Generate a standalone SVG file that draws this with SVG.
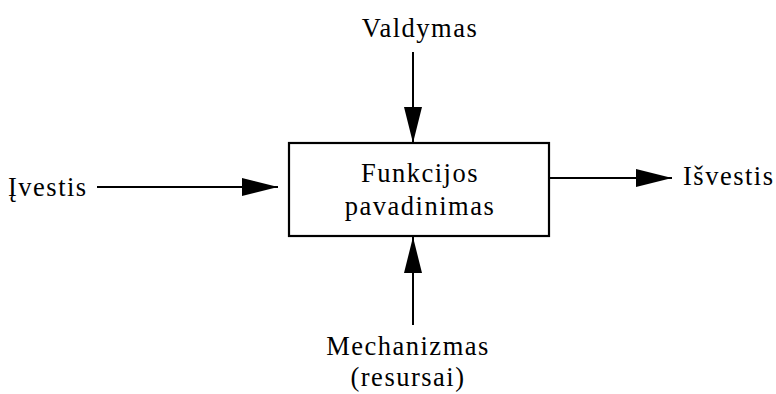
<svg xmlns="http://www.w3.org/2000/svg" width="776" height="394" viewBox="0 0 776 394">
  <defs>
    <marker id="arrow" markerUnits="userSpaceOnUse" markerWidth="36" markerHeight="18" refX="36" refY="9" orient="auto">
      <path d="M0,0 L36,9 L0,18 Z" fill="#000"/>
    </marker>
    <style>
      .box { fill: #fff; stroke: #000; stroke-width: 2.2; }
      .edge { stroke: #000; stroke-width: 2; fill: none; }
    </style>
  </defs>

  <g id="connectors">
    <line class="edge" x1="97" y1="187" x2="278" y2="187" marker-end="url(#arrow)"/>
    <line class="edge" x1="549" y1="178" x2="672" y2="178" marker-end="url(#arrow)"/>
    <line class="edge" x1="413" y1="52" x2="413" y2="143" marker-end="url(#arrow)"/>
    <line class="edge" x1="413" y1="325" x2="413" y2="237" marker-end="url(#arrow)"/>
  </g>

  <g font-family="'Liberation Serif', 'Times New Roman', serif" font-size="26.5" letter-spacing="1.5" fill="#000">
    <g id="function">
      <rect class="box" x="289" y="143" width="260" height="93"/>
      <text x="420" y="182" text-anchor="middle">Funkcijos</text>
      <text x="420" y="215" text-anchor="middle">pavadinimas</text>
    </g>

    <g id="input">
      <text x="8" y="196">Įvestis</text>
    </g>

    <g id="output">
      <text x="683" y="185">Išvestis</text>
    </g>

    <g id="control">
      <text x="420" y="37" text-anchor="middle">Valdymas</text>
    </g>

    <g id="mechanism">
      <text x="408" y="355" text-anchor="middle">Mechanizmas</text>
      <text x="408" y="386" text-anchor="middle">(resursai)</text>
    </g>
  </g>
</svg>
